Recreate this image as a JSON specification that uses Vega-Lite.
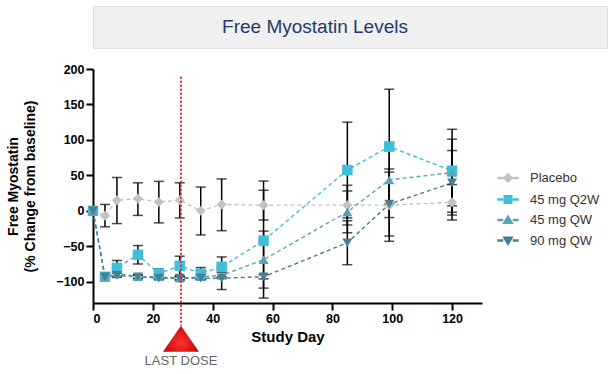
{
  "$schema": "https://vega.github.io/schema/vega-lite/v6.json",
  "background": "white",
  "padding": {"left": 6, "top": 5, "right": 6, "bottom": 0},
  "spacing": 14,
  "center": false,
  "resolve": {"legend": {"color": "independent", "shape": "independent"}},
  "config": {
    "view": {"stroke": null},
    "font": "Liberation Sans",
    "legend": {"title": null, "orient": "none", "legendX": 404, "legendY": 98, "symbolSize": 400, "symbolOpacity": 1,
      "rowPadding": 2.5, "labelOffset": 11, "labelFontSize": 13, "labelColor": "#333333", "labelFont": "Liberation Sans"}
  },
  "datasets": {
    "series": [
      {"series": "Placebo", "day": 0, "v": 0},
      {"series": "Placebo", "day": 4, "v": -7, "lo": -22.6, "hi": 9},
      {"series": "Placebo", "day": 8, "v": 15, "lo": -18, "hi": 47},
      {"series": "Placebo", "day": 15, "v": 17, "lo": -6.5, "hi": 39.5},
      {"series": "Placebo", "day": 22, "v": 12.5, "lo": -17, "hi": 41.5},
      {"series": "Placebo", "day": 29, "v": 15, "lo": -10, "hi": 39.5},
      {"series": "Placebo", "day": 36, "v": 0, "lo": -34, "hi": 33.5},
      {"series": "Placebo", "day": 43, "v": 9, "lo": -28, "hi": 45},
      {"series": "Placebo", "day": 57, "v": 8, "lo": -13, "hi": 29},
      {"series": "Placebo", "day": 85, "v": 8, "lo": -20, "hi": 36},
      {"series": "Placebo", "day": 99, "v": 8, "lo": -43, "hi": 59},
      {"series": "Placebo", "day": 120, "v": 12, "lo": -13, "hi": 37},
      {"series": "45 mg Q2W", "day": 0, "v": 0},
      {"series": "45 mg Q2W", "day": 4, "v": -93, "lo": -97, "hi": -89},
      {"series": "45 mg Q2W", "day": 8, "v": -80.5, "lo": -92, "hi": -70},
      {"series": "45 mg Q2W", "day": 15, "v": -62, "lo": -75, "hi": -49},
      {"series": "45 mg Q2W", "day": 22, "v": -88.5, "lo": -95, "hi": -82},
      {"series": "45 mg Q2W", "day": 29, "v": -77.5, "lo": -92, "hi": -64},
      {"series": "45 mg Q2W", "day": 36, "v": -88.5, "lo": -97, "hi": -80},
      {"series": "45 mg Q2W", "day": 43, "v": -79, "lo": -93, "hi": -65},
      {"series": "45 mg Q2W", "day": 57, "v": -42, "lo": -123, "hi": 42},
      {"series": "45 mg Q2W", "day": 85, "v": 57.5, "lo": -10, "hi": 125},
      {"series": "45 mg Q2W", "day": 99, "v": 90.5, "lo": 9.5, "hi": 171.5},
      {"series": "45 mg Q2W", "day": 120, "v": 56.5, "lo": -2, "hi": 115},
      {"series": "45 mg QW", "day": 0, "v": 0},
      {"series": "45 mg QW", "day": 4, "v": -93, "lo": -96, "hi": -90},
      {"series": "45 mg QW", "day": 8, "v": -88, "lo": -93, "hi": -83},
      {"series": "45 mg QW", "day": 15, "v": -93, "lo": -96, "hi": -90},
      {"series": "45 mg QW", "day": 22, "v": -93, "lo": -97, "hi": -89},
      {"series": "45 mg QW", "day": 29, "v": -95, "lo": -98, "hi": -92},
      {"series": "45 mg QW", "day": 36, "v": -93, "lo": -97, "hi": -89},
      {"series": "45 mg QW", "day": 43, "v": -91, "lo": -95, "hi": -87},
      {"series": "45 mg QW", "day": 57, "v": -69, "lo": -109, "hi": -28.6},
      {"series": "45 mg QW", "day": 85, "v": -1.5, "lo": -31, "hi": 28},
      {"series": "45 mg QW", "day": 99, "v": 43.5, "lo": -9.5, "hi": 96.5},
      {"series": "45 mg QW", "day": 120, "v": 54, "lo": 7, "hi": 101},
      {"series": "90 mg QW", "day": 0, "v": 0},
      {"series": "90 mg QW", "day": 4, "v": -93, "lo": -95, "hi": -91},
      {"series": "90 mg QW", "day": 8, "v": -91, "lo": -94, "hi": -88},
      {"series": "90 mg QW", "day": 15, "v": -93, "lo": -95, "hi": -91},
      {"series": "90 mg QW", "day": 22, "v": -95, "lo": -97, "hi": -93},
      {"series": "90 mg QW", "day": 29, "v": -95, "lo": -97, "hi": -93},
      {"series": "90 mg QW", "day": 36, "v": -95, "lo": -97, "hi": -93},
      {"series": "90 mg QW", "day": 43, "v": -95, "lo": -111, "hi": -79},
      {"series": "90 mg QW", "day": 57, "v": -93, "lo": -96, "hi": -90},
      {"series": "90 mg QW", "day": 85, "v": -45, "lo": -76, "hi": -14},
      {"series": "90 mg QW", "day": 99, "v": 9.5, "lo": -35.5, "hi": 54.5},
      {"series": "90 mg QW", "day": 120, "v": 39.5, "lo": -6, "hi": 85}
    ],
    "dose": [{"day": 29.4, "top": 189, "bottom": -162, "tri": -180.5, "lab": -212, "label": "LAST DOSE"}],
    "head": [{"title": "Free Myostatin Levels"}]
  },
  "vconcat": [
    {
      "width": 514,
      "height": 42,
      "view": {"fill": "#f0f0f0", "stroke": "#dddddd"},
      "data": {"name": "head"},
      "mark": {"type": "text", "fontSize": 19, "color": "#1f3b6b", "font": "Liberation Sans", "dx": -35, "baseline": "middle"},
      "encoding": {"text": {"field": "title"}}
    },
    {
      "width": 389,
      "height": 234,
      "data": {"name": "series"},
      "encoding": {
        "x": {"field": "day", "type": "quantitative", "scale": {"domain": [0, 130], "nice": false},
          "axis": {"values": [0, 20, 40, 60, 80, 100, 120], "title": "Study Day", "grid": false,
            "domainColor": "black", "domainWidth": 2, "tickColor": "black", "tickWidth": 2, "tickSize": 7,
            "labelFont": "Liberation Sans", "labelFontSize": 12.5, "labelFontWeight": "bold", "labelColor": "black", "labelPadding": 2,
            "titleFont": "Liberation Sans", "titleFontSize": 15, "titleFontWeight": "bold", "titleColor": "black", "titlePadding": 5}},
        "y": {"field": "v", "type": "quantitative", "title": ["Free Myostatin", "(% Change from baseline)"], "scale": {"domain": [-130, 200], "nice": false},
          "axis": {"values": [-100, -50, 0, 50, 100, 150, 200], "grid": false,
            "domainColor": "black", "domainWidth": 2, "tickColor": "black", "tickWidth": 2, "tickSize": 7,
            "labelFont": "Liberation Sans", "labelFontSize": 12.5, "labelFontWeight": "bold", "labelColor": "black", "labelPadding": 2,
            "titleFont": "Liberation Sans", "titleFontSize": 14, "titleFontWeight": "bold", "titleColor": "black", "titlePadding": 18, "titleLineHeight": 17}}
      },
      "layer": [
        {
          "mark": {"type": "line", "strokeDash": [4, 3], "strokeWidth": 1.4},
          "encoding": {
            "color": {"field": "series", "type": "nominal",
              "scale": {"domain": ["Placebo", "45 mg Q2W", "45 mg QW", "90 mg QW"], "range": ["#c2c2c2", "#3fbfd9", "#5aa3b6", "#4a7e92"]}},
            "detail": {"field": "series"}
          }
        },
        {
          "transform": [{"filter": "isValid(datum.lo)"}],
          "mark": {"type": "errorbar", "color": "black", "thickness": 1.5, "ticks": {"size": 10, "thickness": 1.5, "color": "black"}},
          "encoding": {
            "y": {"field": "lo", "type": "quantitative", "title": ["Free Myostatin", "(% Change from baseline)"]},
            "y2": {"field": "hi"}
          }
        },
        {
          "transform": [{"filter": "datum.series === 'Placebo'"}],
          "mark": {"type": "point", "filled": true, "opacity": 1, "size": 100, "shape": "diamond"},
          "encoding": {"color": {"field": "series", "type": "nominal"}}
        },
        {
          "transform": [{"filter": "datum.series === '45 mg Q2W'"}],
          "mark": {"type": "point", "filled": true, "opacity": 1, "size": 110, "shape": "square"},
          "encoding": {"color": {"field": "series", "type": "nominal"}}
        },
        {
          "transform": [{"filter": "datum.series === '45 mg QW'"}],
          "mark": {"type": "point", "filled": true, "opacity": 1, "size": 100, "shape": "triangle-up"},
          "encoding": {"color": {"field": "series", "type": "nominal"}}
        },
        {
          "transform": [{"filter": "datum.series === '90 mg QW'"}],
          "mark": {"type": "point", "filled": true, "opacity": 1, "size": 100, "shape": "triangle-down"},
          "encoding": {"color": {"field": "series", "type": "nominal"}}
        },
        {
          "mark": {"type": "point", "filled": true, "opacity": 0, "size": 400},
          "encoding": {
            "color": {"field": "series", "type": "nominal"},
            "shape": {"field": "series", "type": "nominal",
              "scale": {"domain": ["Placebo", "45 mg Q2W", "45 mg QW", "90 mg QW"],
                "range": [
                  "M-1,-0.06H-0.55V0.06H-1Z M0.55,-0.06H1V0.06H0.55Z M0,-0.42L0.42,0L0,0.42L-0.42,0Z",
                  "M-1,-0.06H-0.55V0.06H-1Z M0.55,-0.06H1V0.06H0.55Z M-0.38,-0.38H0.38V0.38H-0.38Z",
                  "M-1,-0.06H-0.55V0.06H-1Z M0.55,-0.06H1V0.06H0.55Z M0,-0.4L0.44,0.32H-0.44Z",
                  "M-1,-0.06H-0.55V0.06H-1Z M0.55,-0.06H1V0.06H0.55Z M0,0.4L0.44,-0.32H-0.44Z"
                ]}}
          }
        },
        {
          "data": {"name": "dose"},
          "mark": {"type": "rule", "color": "#e3262b", "strokeWidth": 2, "strokeDash": [2, 2]},
          "encoding": {
            "y": {"field": "top", "type": "quantitative", "title": ["Free Myostatin", "(% Change from baseline)"]},
            "y2": {"field": "bottom"}
          }
        },
        {
          "data": {"name": "dose"},
          "mark": {"type": "point", "filled": true, "opacity": 1, "size": 1296, "shape": "M0,-0.72L1,0.72L-1,0.72Z",
            "color": {"gradient": "radial", "x1": 0.5, "y1": 0.6, "x2": 0.5, "y2": 0.6, "r1": 0, "r2": 0.6,
              "stops": [{"offset": 0, "color": "#ff3030"}, {"offset": 1, "color": "#b80000"}]}},
          "encoding": {
            "y": {"field": "tri", "type": "quantitative", "title": ["Free Myostatin", "(% Change from baseline)"]}
          }
        },
        {
          "data": {"name": "dose"},
          "mark": {"type": "text", "fontSize": 13, "color": "#666666", "font": "Liberation Sans", "baseline": "middle"},
          "encoding": {
            "y": {"field": "lab", "type": "quantitative", "title": ["Free Myostatin", "(% Change from baseline)"]},
            "text": {"field": "label"}
          }
        }
      ]
    }
  ]
}
